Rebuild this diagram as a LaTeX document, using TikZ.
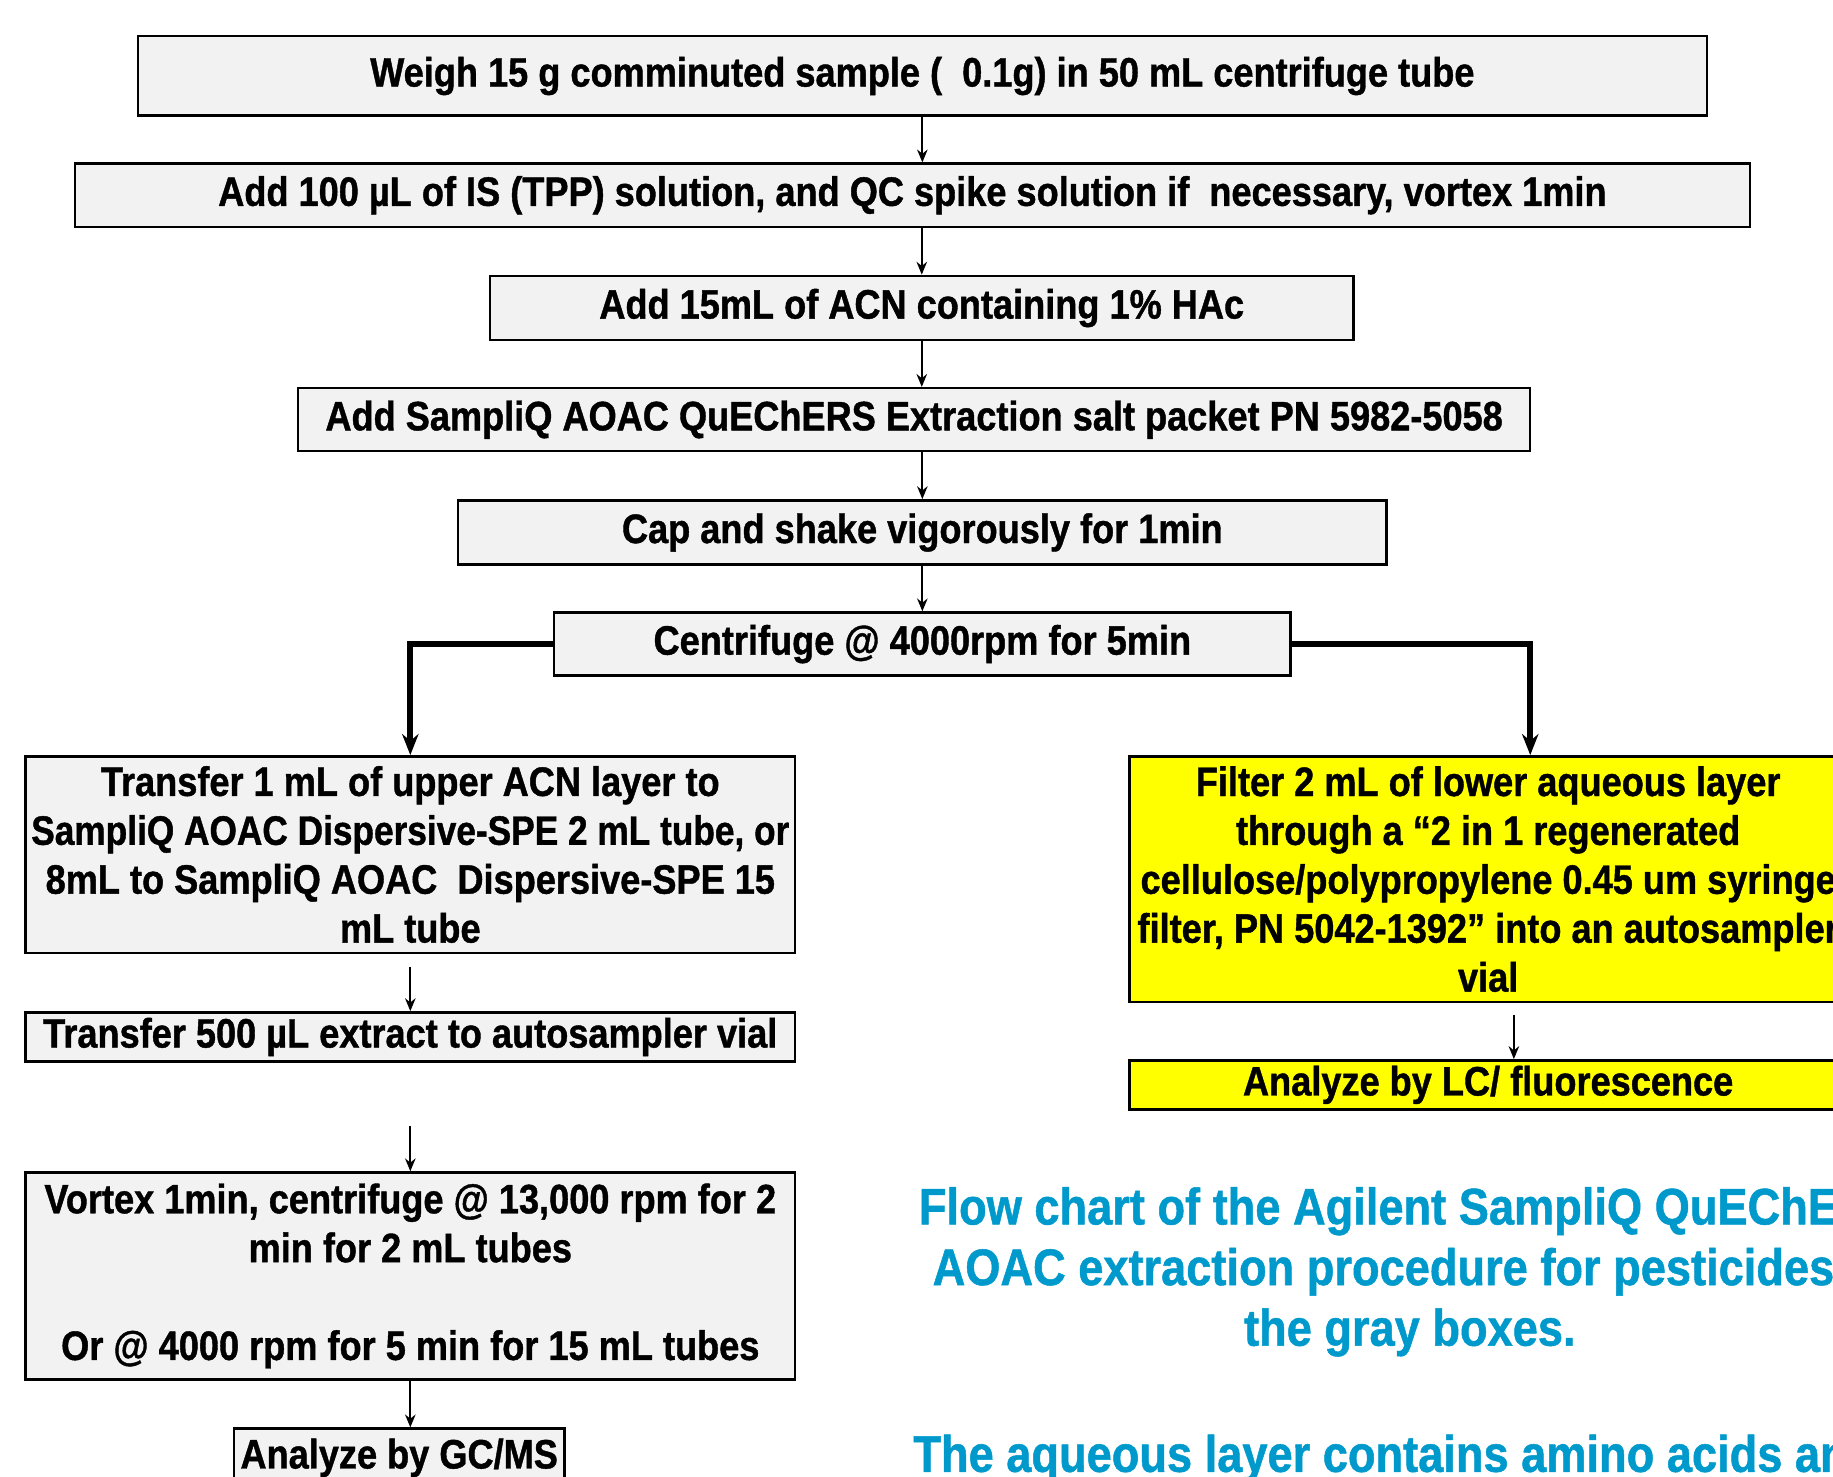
\documentclass[tikz,border=0pt]{standalone}
\usepackage{fontspec}
\setmainfont{Liberation Sans}[FakeStretch=0.88, FakeBold=1]
\usepackage{graphicx}
\usepackage{tikz}
\usetikzlibrary{arrows,arrows.meta,shapes,positioning,calc}
\usepackage{xcolor}
\definecolor{boxgray}{RGB}{242,242,242}
\definecolor{qyellow}{RGB}{255,255,0}
\definecolor{capblue}{RGB}{0,153,204}
\tikzstyle{step box} = [draw=black, line width=1.2pt, fill=boxgray, inner sep=0pt, align=flush center, font=\bfseries\fontsize{20}{23.8}\selectfont]
\tikzstyle{lc box} = [step box, fill=qyellow]
\tikzstyle{arrow} = [line width=0.9pt,-{Stealth[length=2.2mm,width=1.8mm]}]
\tikzstyle{branch} = [line width=2.8pt,-{Stealth[length=3.6mm,width=2.8mm]}]

\begin{document}
\begin{tikzpicture}
\useasboundingbox (0,0) rectangle (31.36,-25.26);
\clip (0,0) rectangle (31.36,-25.26);

% Main column
\node[step box, minimum width=26.84cm, minimum height=1.36cm] (weigh) at (15.78,-1.30) {Weigh 15 g comminuted sample (\ \ 0.1g) in 50 mL centrifuge tube};
\node[step box, minimum width=28.66cm, minimum height=1.08cm] (addis) at (15.61,-3.34) {Add 100 µL of IS (TPP) solution, and QC spike solution if\ \ necessary, vortex 1min};
\node[step box, minimum width=14.78cm, minimum height=1.10cm] (addacn) at (15.77,-5.27) {Add 15mL of ACN containing 1\% HAc};
\node[step box, minimum width=21.08cm, minimum height=1.08cm] (addsalt) at (15.64,-7.18) {Add SampliQ AOAC QuEChERS Extraction salt packet PN 5982-5058};
\node[step box, minimum width=15.88cm, minimum height=1.10cm] (shake) at (15.78,-9.11) {Cap and shake vigorously for 1min};
\node[step box, minimum width=12.60cm, minimum height=1.08cm] (centrifuge) at (15.78,-11.02) {Centrifuge @ 4000rpm for 5min};

% GC/MS branch
\node[step box, minimum width=13.16cm, minimum height=3.36cm, text width=13.0cm] (transfer) at (7.02,-14.62) {Transfer 1 mL of upper ACN layer to\\ \makebox[\linewidth]{\scalebox{0.975}[1]{SampliQ AOAC Dispersive-SPE 2 mL tube, or}}\\ 8mL to SampliQ AOAC\ \ Dispersive-SPE 15\\ mL tube};
\node[step box, minimum width=13.16cm, minimum height=0.84cm] (vial) at (7.02,-17.74) {Transfer 500 µL extract to autosampler vial};
\node[step box, minimum width=13.16cm, minimum height=3.54cm, text width=13.0cm] (vortex) at (7.02,-21.83) {Vortex 1min, centrifuge @ 13,000 rpm for 2\\ min for 2 mL tubes\\ \mbox{}\\ Or @ 4000 rpm for 5 min for 15 mL tubes};
\node[step box, minimum width=5.66cm, minimum height=1.00cm, anchor=north] (gcms) at (6.83,-24.42) {Analyze by GC/MS};

% LC branch
\node[lc box, minimum width=12.28cm, minimum height=4.20cm, text width=12.2cm] (filter) at (25.46,-15.04) {Filter 2 mL of lower aqueous layer\\ through a “2 in 1 regenerated\\ cellulose/polypropylene 0.45 um syringe\\ filter, PN 5042-1392” into an autosampler\\ vial};
\node[lc box, minimum width=12.28cm, minimum height=0.84cm] (lc) at (25.46,-18.56) {Analyze by LC/ fluorescence};

% Caption
\node[text=capblue, align=center, font=\bfseries\fontsize{25}{29.5}\selectfont] (caption) at (24.12,-21.76) {Flow chart of the Agilent SampliQ QuEChERS\\ AOAC extraction procedure for pesticides in\\ the gray boxes.};
\node[text=capblue, anchor=base west, inner sep=0pt, font=\bfseries\fontsize{25}{29.5}\selectfont] (aqueous) at (15.62,-25.18) {The aqueous layer contains amino acids and};

% Arrows
\draw[arrow] (weigh.south) -- (weigh.south |- addis.north);
\draw[arrow] (addacn.north |- addis.south) -- (addacn.north);
\draw[arrow] (addacn.south) -- (addacn.south |- addsalt.north);
\draw[arrow] (shake.north |- addsalt.south) -- (shake.north);
\draw[arrow] (shake.south) -- (centrifuge.north);
\draw[branch] (centrifuge.west) -| (transfer.north);
\draw[branch] (centrifuge.east) -| ([xshift=0.72cm]filter.north);
\draw[arrow, shorten <=0.22cm] (transfer.south) -- (vial.north);
\draw[arrow, shorten <=1.08cm] (vial.south) -- (vortex.north);
\draw[arrow] (vortex.south) -- (vortex.south |- gcms.north);
\draw[arrow, shorten <=0.2cm] ([xshift=0.44cm]filter.south) -- ([xshift=0.44cm]lc.north);
\end{tikzpicture}
\end{document}
